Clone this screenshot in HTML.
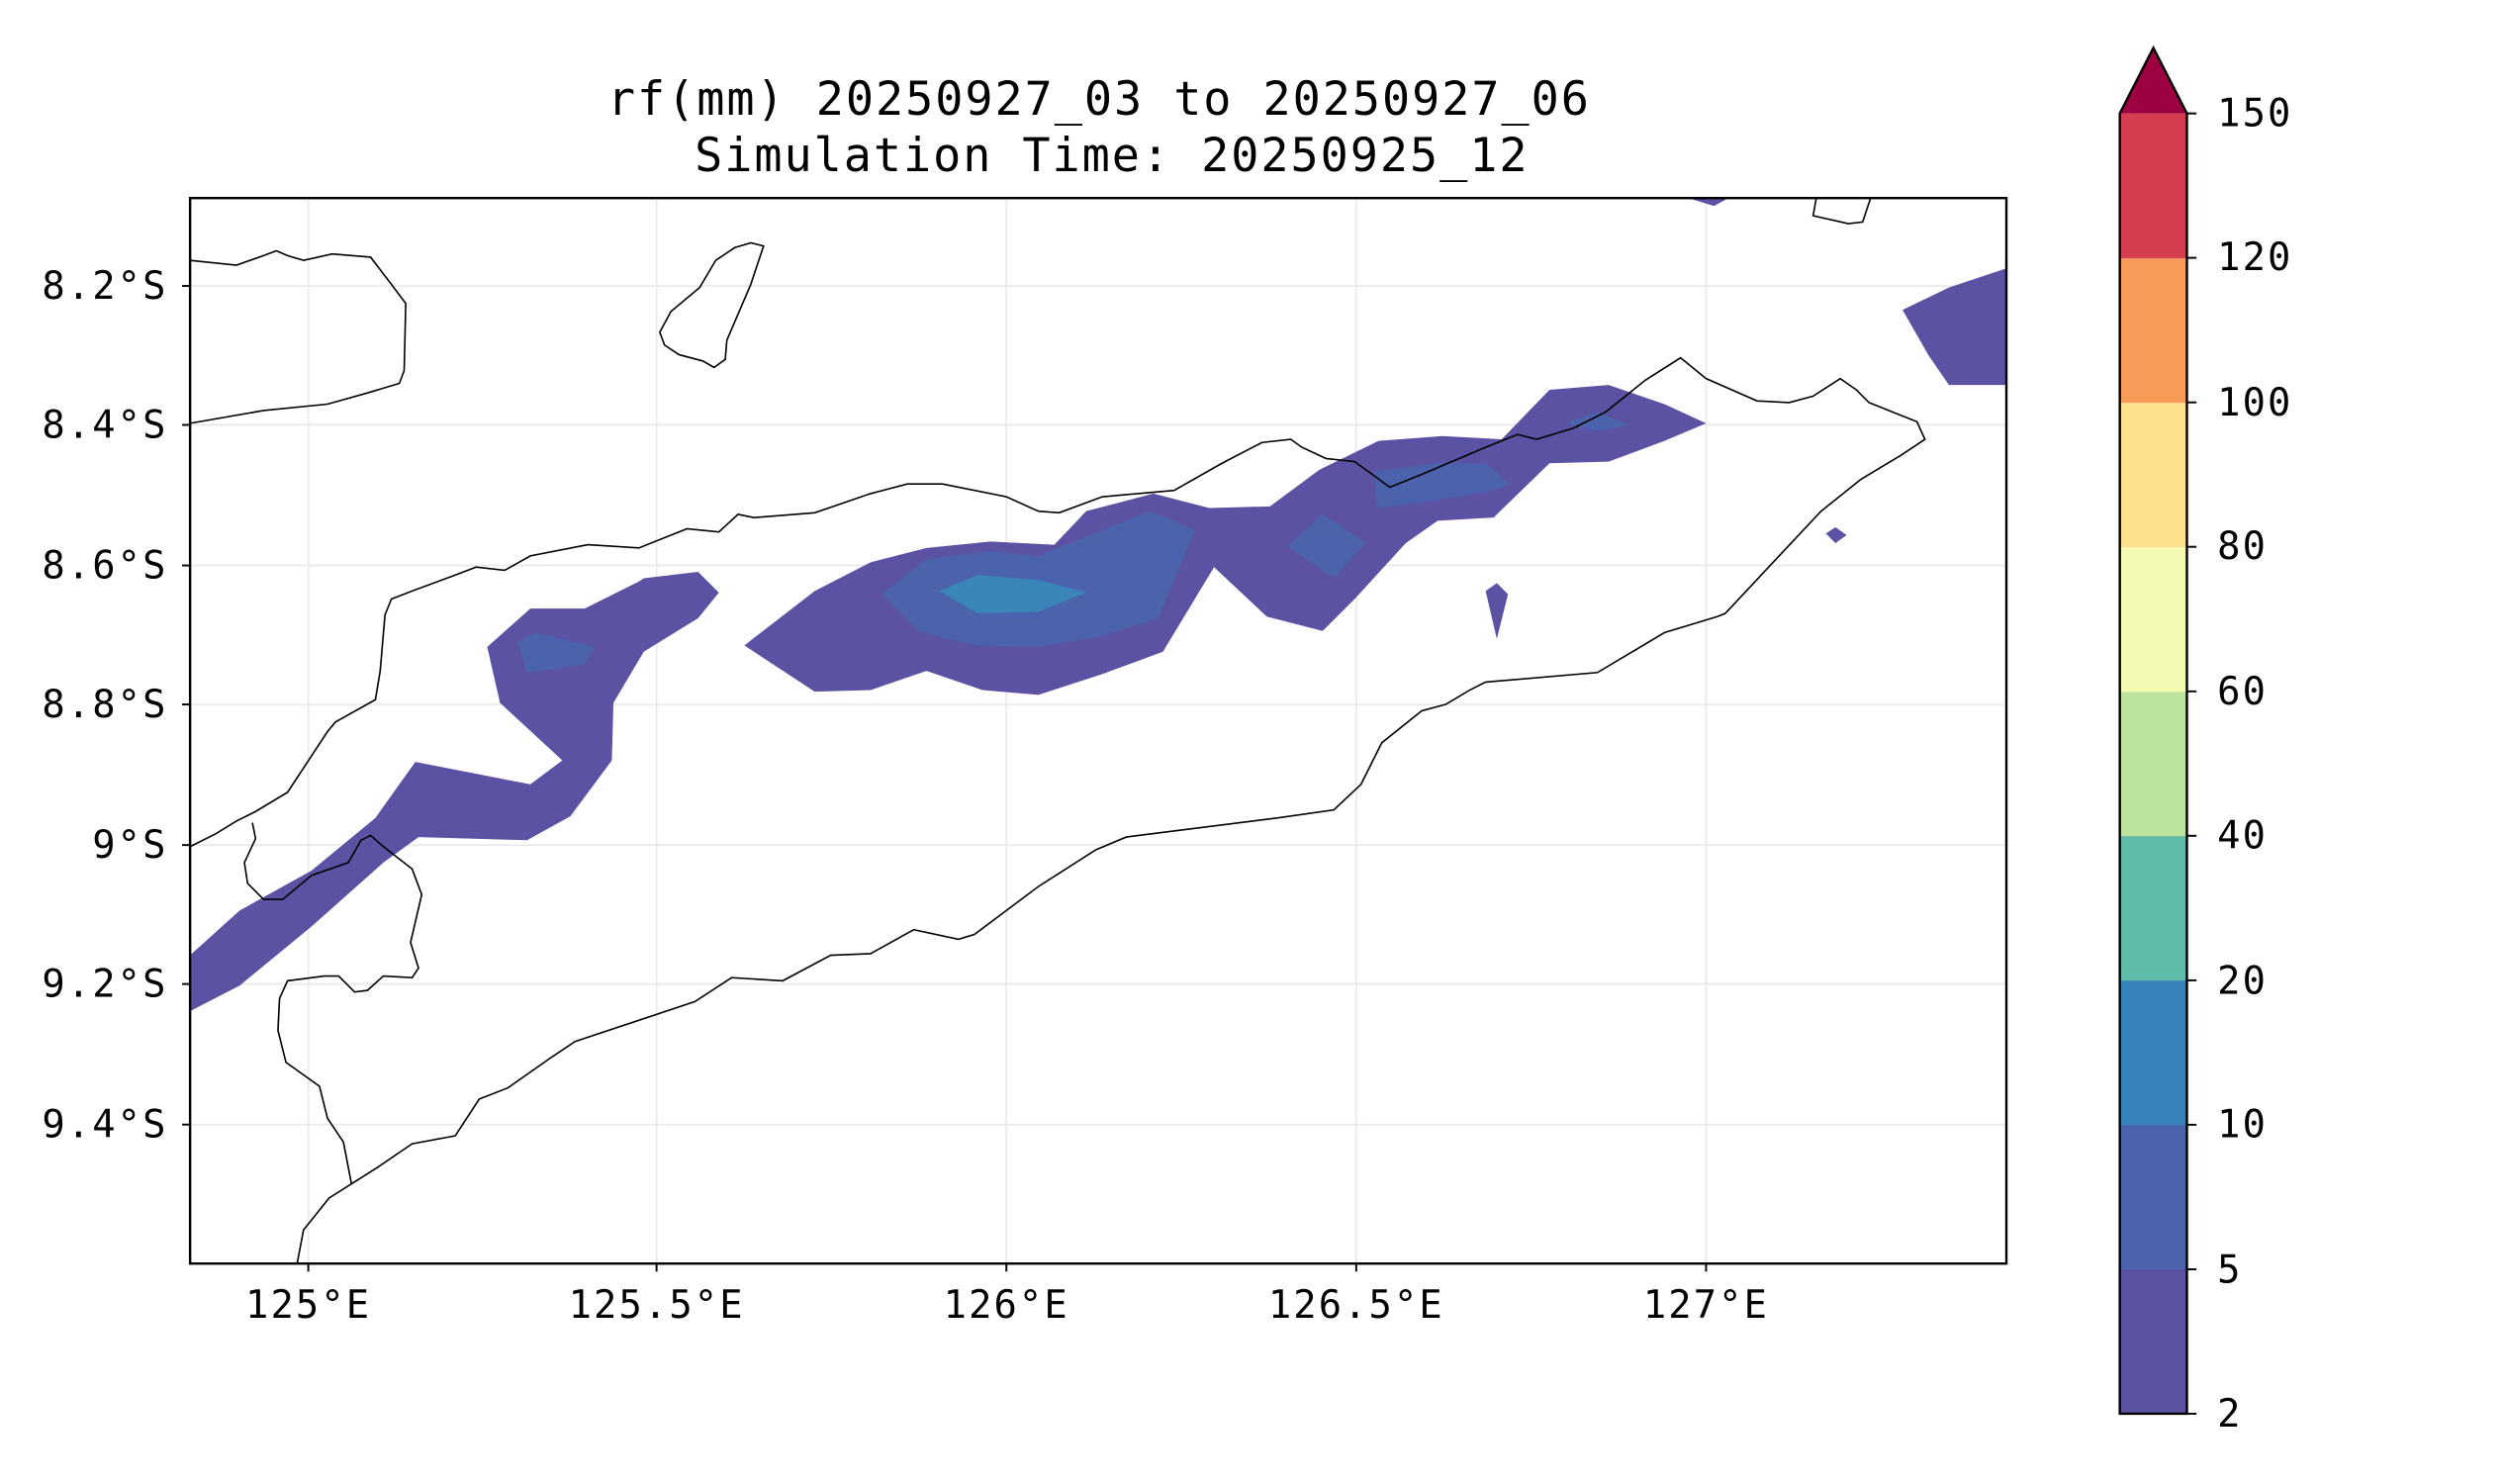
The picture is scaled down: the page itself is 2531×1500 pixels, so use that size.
<!DOCTYPE html>
<html><head><meta charset="utf-8"><style>html,body{margin:0;padding:0;background:#fff}svg{display:block}</style></head>
<body>
<svg width="2531" height="1500" viewBox="0 0 1567.5 929" preserveAspectRatio="none" xmlns="http://www.w3.org/2000/svg" font-family="'DejaVu Sans Mono','Liberation Mono',monospace">
<rect width="1570" height="930" fill="#fff"/>
<text x="688" y="72" font-size="29" letter-spacing="1.2" text-anchor="middle">rf(mm) 20250927_03 to 20250927_06</text>
<text x="696" y="107" font-size="29" letter-spacing="1.2" text-anchor="middle">Simulation Time: 20250925_12</text>
<defs><clipPath id="c"><rect x="119" y="124" width="1137" height="667"/></clipPath></defs>
<g stroke="#e8e8e8" stroke-width="1">
<line x1="193" y1="124" x2="193" y2="791"/><line x1="411" y1="124" x2="411" y2="791"/><line x1="630" y1="124" x2="630" y2="791"/><line x1="849" y1="124" x2="849" y2="791"/><line x1="1068" y1="124" x2="1068" y2="791"/>
<line x1="119" y1="179" x2="1256" y2="179"/><line x1="119" y1="266" x2="1256" y2="266"/><line x1="119" y1="354" x2="1256" y2="354"/><line x1="119" y1="441" x2="1256" y2="441"/><line x1="119" y1="529" x2="1256" y2="529"/><line x1="119" y1="616" x2="1256" y2="616"/><line x1="119" y1="704" x2="1256" y2="704"/>
</g>
<g clip-path="url(#c)">
<g fill="#5b52a3">
<polygon points="119,598 150,570 195,545 235,512 260,477 332,491 352,476 313,440 305,405 332,381 366,381 400,364 403,362 437,358 450,371 437,387 403,408 384,440 383,476 357,511 330,526 262,524 240,540 195,580 150,617 119,633"/>
<polygon points="466,404 510,370 545,352 580,343 620,339 660,341 680,320 722,309 757,318 795,317 826,294 863,276 903,273 940,275 970,244 1007,241 1042,253 1068,265 1042,276 1007,289 970,290 935,324 900,326 880,340 848,375 828,395 793,386 760,355 728,408 690,422 650,435 615,432 580,420 545,432 510,433 475,410"/>
<polygon points="1191,194 1220,180 1256,168 1256,241 1220,241 1207,222"/>
<polygon points="930,370 937,365 944,372 937,400"/>
<polygon points="1143,334 1149,330 1156,335 1149,340"/>
<polygon points="1057,124 1082,124 1073,129"/>
</g>
<g fill="#4a63ac">
<polygon points="324,402 335,396 372,405 366,416 330,421"/>
<polygon points="552,372 580,350 620,345 650,348 720,320 748,332 725,387 690,398 650,405 610,404 575,395"/>
<polygon points="806,342 828,322 855,340 835,362"/>
<polygon points="860,295 900,290 930,290 945,303 935,307 900,313 862,318"/>
<polygon points="980,265 1000,258 1020,266 1000,270"/>
</g>
<polygon fill="#3a86bb" points="588,370 612,360 650,363 680,371 650,383 612,384"/>
<g fill="none" stroke="#000" stroke-width="1">
<polyline points="119,530 135,522 148,514 160,508 180,496 205,458 210,452 235,438 238,420 241,385 245,375 258,370 285,360 298,355 316,357 332,348 368,341 400,343 430,331 450,333 462,322 472,324 510,321 545,309 568,303 590,303 630,311 650,320 663,321 690,311 735,307 765,290 790,277 808,275 815,280 830,287 848,289 870,305 890,297 930,280 950,272 962,275 985,268 1005,258 1030,238 1052,224 1068,237 1100,251 1120,252 1135,248 1152,237 1162,244 1170,252 1185,258 1200,264 1205,275 1190,285 1165,300 1140,320 1110,352 1080,384 1075,386 1042,396 1000,421 930,427 920,432 905,441 890,445 865,465 852,491 835,507 800,512 705,524 686,532 650,555 610,585 600,588 572,582 545,597 520,598 490,614 458,612 435,627 360,652 345,662 318,681 300,688 285,711 258,716 236,731 206,750 190,770 186,791"/>
<polyline points="158,515 160,525 153,540 155,553 165,563 177,563 195,548 218,540 226,526 232,523 240,530 258,544 264,560 257,590 262,606 258,612 240,611 230,620 222,621 212,611 203,611 180,614 175,625 174,645 179,665 200,680 205,700 215,715 220,741"/>
<polyline points="119,163 148,166 165,160 173,157 180,160 190,163 208,159 232,161 245,178 254,190 253,232 250,240 230,246 205,253 165,257 119,265"/>
<polygon points="470,152 478,154 470,178 455,213 454,225 447,230 440,226 425,222 416,216 413,208 420,195 438,180 448,163 460,155"/>
<polyline points="1137,124 1135,135 1157,140 1166,139 1171,124"/>
</g>
</g>
<rect x="119" y="124" width="1137" height="667" fill="none" stroke="#000" stroke-width="1.5"/>
<g font-size="24" letter-spacing="1.3">
<g text-anchor="middle"><text x="193" y="825">125°E</text><text x="411" y="825">125.5°E</text><text x="630" y="825">126°E</text><text x="849" y="825">126.5°E</text><text x="1068" y="825">127°E</text></g>
<g text-anchor="end"><text x="105" y="187">8.2°S</text><text x="105" y="274">8.4°S</text><text x="105" y="362">8.6°S</text><text x="105" y="449">8.8°S</text><text x="105" y="537">9°S</text><text x="105" y="624">9.2°S</text><text x="105" y="712">9.4°S</text></g>
</g>
<g stroke="#000" stroke-width="1.2"><line x1="193" y1="791" x2="193" y2="796"/><line x1="411" y1="791" x2="411" y2="796"/><line x1="630" y1="791" x2="630" y2="796"/><line x1="849" y1="791" x2="849" y2="796"/><line x1="1068" y1="791" x2="1068" y2="796"/>
<line x1="114" y1="179" x2="119" y2="179"/><line x1="114" y1="266" x2="119" y2="266"/><line x1="114" y1="354" x2="119" y2="354"/><line x1="114" y1="441" x2="119" y2="441"/><line x1="114" y1="529" x2="119" y2="529"/><line x1="114" y1="616" x2="119" y2="616"/><line x1="114" y1="704" x2="119" y2="704"/></g>
<g>
<rect x="1327" y="794.6" width="42" height="90.4" fill="#5b52a3"/>
<rect x="1327" y="704.2" width="42" height="90.4" fill="#4a63ac"/>
<rect x="1327" y="613.8" width="42" height="90.4" fill="#3682ba"/>
<rect x="1327" y="523.4" width="42" height="90.4" fill="#61bba9"/>
<rect x="1327" y="433" width="42" height="90.4" fill="#bce49f"/>
<rect x="1327" y="342.6" width="42" height="90.4" fill="#f3f9b1"/>
<rect x="1327" y="252.2" width="42" height="90.4" fill="#fce08b"/>
<rect x="1327" y="161.8" width="42" height="90.4" fill="#f99b59"/>
<rect x="1327" y="71" width="42" height="90.8" fill="#d53d50"/>
<polygon points="1327,71 1348,30 1369,71" fill="#9e0142"/>
<polygon points="1327,71 1348,30 1369,71 1369,885 1327,885" fill="none" stroke="#000" stroke-width="1.5"/>
<g stroke="#000" stroke-width="1.2"><line x1="1369" y1="71" x2="1375" y2="71"/><line x1="1369" y1="161.4" x2="1375" y2="161.4"/><line x1="1369" y1="251.9" x2="1375" y2="251.9"/><line x1="1369" y1="342.3" x2="1375" y2="342.3"/><line x1="1369" y1="432.8" x2="1375" y2="432.8"/><line x1="1369" y1="523.2" x2="1375" y2="523.2"/><line x1="1369" y1="613.7" x2="1375" y2="613.7"/><line x1="1369" y1="704.1" x2="1375" y2="704.1"/><line x1="1369" y1="794.6" x2="1375" y2="794.6"/><line x1="1369" y1="885" x2="1375" y2="885"/></g>
<g font-size="24" letter-spacing="1.3"><text x="1388" y="79">150</text><text x="1388" y="169">120</text><text x="1388" y="260">100</text><text x="1388" y="350">80</text><text x="1388" y="441">60</text><text x="1388" y="531">40</text><text x="1388" y="622">20</text><text x="1388" y="712">10</text><text x="1388" y="803">5</text><text x="1388" y="893">2</text></g>
</g>
</svg>
</body></html>
